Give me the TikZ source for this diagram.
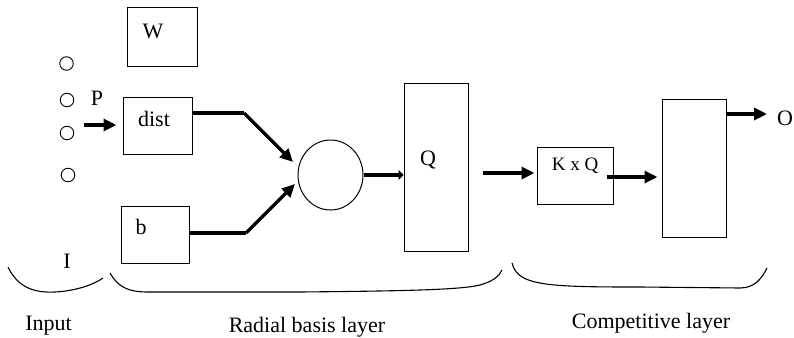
\documentclass[tikz,border=0pt]{standalone}
\usepackage{fontspec}
\setmainfont{Liberation Serif}
\usetikzlibrary{arrows.meta,shapes.geometric}
\begin{document}
\begin{tikzpicture}[x=1pt,y=-1pt,
  box/.style={draw,line width=1pt,inner sep=0pt},
  dot/.style={draw,line width=0.9pt,circle,minimum size=13.5pt,inner sep=0pt},
  lbl/.style={inner sep=0pt,font=\fontsize{22}{24}\selectfont},
  arr/.style={line width=3.2pt,-{Triangle[length=13pt,width=12pt]}},
  wire/.style={line width=3.2pt},
  brace/.style={line width=1.1pt}]
\useasboundingbox (0,0) rectangle (794,337);
% input dots
\node[dot] (i1) at (66.5,63.5) {};
\node[dot] (i2) at (67,100) {};
\node[dot] (i3) at (67,133) {};
\node[dot] (i4) at (68,175) {};
% boxes
\node[box,minimum width=70pt,minimum height=58pt] (W) at (162,37) {};
\node[box,minimum width=69pt,minimum height=57pt] (dist) at (157.5,125.5) {};
\node[box,minimum width=68pt,minimum height=57pt] (b) at (155,234.5) {};
\node[draw,line width=1pt,ellipse,minimum width=65pt,minimum height=70pt,inner sep=0pt] (sum) at (330.5,175) {};
\node[box,minimum width=64pt,minimum height=168pt] (Q) at (436,167) {};
\node[box,minimum width=76pt,minimum height=57pt] (kxq) at (575,175.5) {};
\node[box,minimum width=64pt,minimum height=138pt] (comp) at (694,168) {};
% texts
\node[lbl] (tW) at (153,31) {W};
\node[lbl] (tdist) at (154,119) {dist};
\node[lbl] (tb) at (141,227) {b};
\node[lbl] (tQ) at (428,160) {Q};
\node[lbl,font=\fontsize{19}{21}\selectfont] (tkxq) at (575,166) {K x Q};
\node[lbl] (tP) at (97,98) {P};
\node[lbl] (tO) at (785,118.5) {O};
\node[lbl] (tI) at (67,261) {I};
\node[lbl] (tin) at (48.5,326) {Input};
\node[lbl] (trb) at (307,327) {Radial basis layer};
\node[lbl] (tcl) at (651,323) {Competitive layer};
% connectors
\coordinate (pin) at (84,125);
\draw[arr] (pin) -- ([xshift=-6pt]dist.west |- pin);
\coordinate (d1) at (244,113);
\coordinate (tipA) at (293,162);
\draw[wire] ([yshift=12.5pt]dist.east) -- (d1);
\draw[arr] (d1) -- (tipA);
\coordinate (b1) at (246,233);
\coordinate (tipB) at (295,184);
\draw[wire] ([yshift=1.5pt]b.east) -- (b1);
\draw[arr] (b1) -- (tipB);
\draw[line width=3.2pt,-{Triangle[length=5pt,width=10pt]}] (sum.east) -- (Q.west |- sum.east);
\coordinate (qo) at (483,173);
\draw[arr] (qo) -- ([xshift=-2pt]kxq.west |- qo);
\coordinate (ko) at (607,177);
\draw[arr] (ko) -- ([xshift=-4pt]comp.west |- ko);
\coordinate (co) at (comp.east |- 0,114);
\coordinate (oend) at (767,114);
\draw[arr] (co) -- (oend);
% braces
\draw[brace] (8,267) .. controls (18,288) and (35,293) .. (55,292) .. controls (75,291) and (93,285) .. (103,278);
\draw[brace] (110,273) .. controls (118,287) and (128,292) .. (148,292) -- (300,292) .. controls (400,291) and (460,290) .. (480,285) .. controls (494,281) and (499,276) .. (502,270);
\draw[brace] (512,263) .. controls (515,275) and (524,280) .. (540,283) .. controls (560,287) and (600,287) .. (640,287) -- (740,288) .. controls (755,288) and (762,278) .. (767,268);
\end{tikzpicture}
\end{document}
